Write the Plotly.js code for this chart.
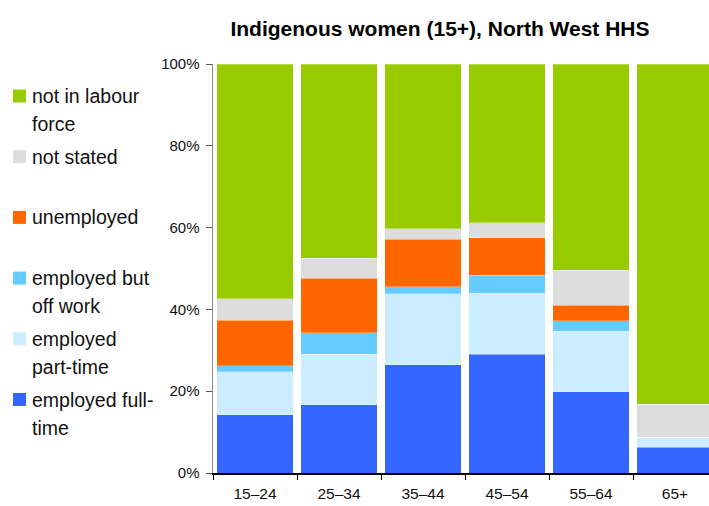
<!DOCTYPE html>
<html>
<head>
<meta charset="utf-8">
<script src="https://cdn.plot.ly/plotly-3.0.1.min.js"></script>
<style>
html,body{margin:0;padding:0;background:#fff;}
#chart{width:709px;height:506px;}
</style>
</head>
<body>
<div id="chart"></div>
<script>
// ---- data (percent of Indigenous women 15+, by age group) ----
const categories = ['15–24', '25–34', '35–44', '45–54', '55–64', '65+'];
const employedFullTime = [14.2, 16.7, 26.5, 29.0, 19.9, 6.3];
const employedPartTime = [10.5, 12.3, 17.3, 14.9, 14.8, 2.4];
const employedOffWork = [1.5, 5.3, 1.8, 4.5, 2.5, 0];
const unemployed = [11.2, 13.3, 11.5, 9.1, 3.8, 0];
const notStated = [5.2, 4.9, 2.6, 3.7, 8.6, 8.1];
const notInLabourForce = [57.4, 47.5, 40.3, 38.8, 50.4, 83.2];
const yTickValues = [0, 20, 40, 60, 80, 100];
const yTickLabels = ['0%', '20%', '40%', '60%', '80%', '100%'];

const seriesNames = ['employed full-time', 'employed part-time', 'employed but off work', 'unemployed', 'not stated', 'not in labour force'];
const seriesValues = [employedFullTime, employedPartTime, employedOffWork, unemployed, notStated, notInLabourForce];
const seriesColors = ['#3366FF', '#CCECFF', '#66CCFF', '#FF6600', '#DDDDDD', '#99CC00'];
// legend lines (top to bottom as shown)
const legendLines = [
  ['not in labour', 'force'],
  ['not stated'],
  ['unemployed'],
  ['employed but', 'off work'],
  ['employed', 'part-time'],
  ['employed full-', 'time']
];
const legendColors = ['#99CC00', '#DDDDDD', '#FF6600', '#66CCFF', '#CCECFF', '#3366FF'];

// ---- layout geometry ----
const W = 709, H = 506;
const L = 213, R = 0, T = 64, B = 33;
const plotW = W - L - R, plotH = H - T - B;
const catStep = 84;
const px2x = p => (p - L) / plotW;
const py2y = p => (H - B - p) / plotH;

const FONT = 'Liberation Sans, Arial, Helvetica, sans-serif';

const traces = seriesNames.map((n, i) => ({
  type: 'bar',
  name: n,
  x: categories,
  y: seriesValues[i],
  marker: {color: seriesColors[i], line: {color: 'rgba(255,255,255,0.45)', width: 0.6}},
  hoverinfo: 'x+y+name'
}));

const shapes = [];
const annotations = [];
const legendTop = 96, legendStep = 60.7, lineGap = 28;
legendLines.forEach((lines, i) => {
  const cy = legendTop + i * legendStep;
  shapes.push({
    type: 'rect', xref: 'paper', yref: 'paper',
    x0: px2x(13), x1: px2x(26), y0: py2y(cy + 6.5), y1: py2y(cy - 6.5),
    fillcolor: legendColors[i], line: {width: 0}
  });
  lines.forEach((t, j) => {
    annotations.push({
      xref: 'paper', yref: 'paper', x: px2x(30), y: py2y(cy + j * lineGap),
      xanchor: 'left', yanchor: 'middle', showarrow: false,
      text: t, font: {family: FONT, size: 19.5, color: '#111'}
    });
  });
});

const layout = {
  width: W, height: H,
  margin: {l: L, r: R, t: T, b: B, pad: 0},
  paper_bgcolor: '#fff', plot_bgcolor: '#fff',
  barmode: 'stack',
  bargap: 0.088,
  showlegend: false,
  title: {
    text: 'Indigenous women (15+), North West HHS',
    xref: 'container', yref: 'container',
    x: 440 / W, xanchor: 'center',
    y: 1 - 29 / H, yanchor: 'middle',
    font: {family: FONT, size: 21, color: '#000', weight: 'bold'}
  },
  xaxis: {
    type: 'category',
    range: [-0.5, -0.5 + plotW / catStep],
    showgrid: false, zeroline: false,
    showline: true, linecolor: '#000', linewidth: 1.5,
    ticks: 'outside', tickson: 'boundaries', ticklen: 5, tickcolor: '#000', tickwidth: 1,
    ticklabelstandoff: 6,
    tickfont: {family: FONT, size: 15.5, color: '#111'},
    fixedrange: true
  },
  yaxis: {
    range: [0, 100],
    tickvals: yTickValues, ticktext: yTickLabels,
    showgrid: false, zeroline: false,
    showline: true, linecolor: '#888', linewidth: 1.5,
    ticks: 'outside', ticklen: 6, tickcolor: '#555', tickwidth: 1,
    ticklabelstandoff: 3,
    tickfont: {family: FONT, size: 15, color: '#111'},
    fixedrange: true
  },
  shapes: shapes,
  annotations: annotations
};

Plotly.newPlot('chart', traces, layout, {displayModeBar: false, staticPlot: true});
</script>
</body>
</html>
